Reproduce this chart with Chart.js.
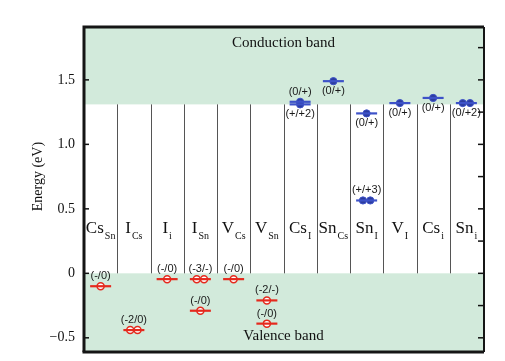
<!DOCTYPE html>
<html><head><meta charset="utf-8">
<script src="https://cdn.jsdelivr.net/npm/chart.js@4.4.1/dist/chart.umd.min.js"></script>
<style>html,body{margin:0;padding:0;background:#fff;}canvas{display:block;}</style>
</head><body>
<canvas id="c" width="505" height="361"></canvas>
<script>
// ---- data ----
const defectMain = ['Cs','I','I','I','V','V','Cs','Sn','Sn','V','Cs','Sn'];
const defectSub  = ['Sn','Cs','i','Sn','Cs','Sn','I','Cs','I','I','i','i'];
const bandGap = 1.31;
const yTickValues = [-0.5, 0, 0.5, 1.0, 1.5];
const levelColumn = [0, 1, 2, 3, 3, 4, 5, 5, 6, 6, 7, 8, 8, 9, 10, 11];
const levelEnergy = [-0.10, -0.44, -0.045, -0.045, -0.29, -0.045, -0.21, -0.39, 1.33, 1.31, 1.49, 1.24, 0.565, 1.32, 1.36, 1.32];
const levelLabel  = ['(-/0)','(-2/0)','(-/0)','(-3/-)','(-/0)','(-/0)','(-2/-)','(-/0)','(0/+)','(+/+2)','(0/+)','(0/+)','(+/+3)','(0/+)','(0/+)','(0/+2)'];
const levelType   = ['a','a','a','a','a','a','a','a','d','d','d','d','d','d','d','d'];
const levelDouble = [0, 1, 0, 1, 0, 0, 0, 0, 0, 0, 0, 0, 1, 0, 0, 1];
const labelSide   = ['up','up','up','up','up','up','up','up','up','down','down','down','up','down','down','down'];

const RED = '#e5291d', BLUE_L = '#3d52c8', BLUE_D = '#2c3c9e', GREEN = '#d2eadb';
const SERIF = '"Liberation Serif", "Times New Roman", serif';
const SANS = '"Liberation Sans", Arial, sans-serif';

function segData(t){ return levelEnergy.map((e,i)=>({x:levelColumn[i]+0.5,y:e,t:levelType[i]})).filter(p=>p.t===t); }
function circData(t){
  const out=[];
  levelEnergy.forEach((e,i)=>{
    if(levelType[i]!==t) return;
    if(levelDouble[i]){ out.push({x:levelColumn[i]+0.5-0.11,y:e}); out.push({x:levelColumn[i]+0.5+0.11,y:e}); }
    else out.push({x:levelColumn[i]+0.5,y:e});
  });
  return out;
}

const decor = {
  id:'decor',
  beforeDatasetsDraw(chart){
    const {ctx, chartArea:a, scales:{x,y}} = chart;
    ctx.save();
    ctx.fillStyle = GREEN;
    const yg = y.getPixelForValue(bandGap), y0 = y.getPixelForValue(0);
    ctx.fillRect(a.left, a.top, a.right-a.left, yg-a.top);
    ctx.fillRect(a.left, y0, a.right-a.left, a.bottom-y0);
    // dividers
    ctx.strokeStyle = '#555'; ctx.lineWidth = 1;
    for(let k=1;k<defectMain.length;k++){
      const px = Math.round(x.getPixelForValue(k))+0.5;
      ctx.beginPath(); ctx.moveTo(px, yg); ctx.lineTo(px, y0); ctx.stroke();
    }
    // band texts
    ctx.fillStyle = '#111'; ctx.textAlign='center'; ctx.textBaseline='middle';
    ctx.font = '15px '+SERIF;
    const cx = (a.left+a.right)/2;
    ctx.fillText('Conduction band', cx, a.top+16);
    ctx.fillText('Valence band', cx, a.bottom-16);
    // column labels
    const ly = y.getPixelForValue(0.31);
    defectMain.forEach((m,i)=>{
      ctx.font = '17px '+SERIF;
      const mw = ctx.measureText(m).width;
      ctx.font = '10px '+SERIF;
      const sw = ctx.measureText(defectSub[i]).width;
      const total = mw+sw+1;
      const c = x.getPixelForValue(i+0.5);
      const sx = c-total/2;
      ctx.textAlign='left'; ctx.textBaseline='alphabetic';
      ctx.font = '17px '+SERIF; ctx.fillText(m, sx, ly);
      ctx.font = '10px '+SERIF; ctx.fillText(defectSub[i], sx+mw+1, ly+6);
    });
    ctx.restore();
  },
  afterDatasetsDraw(chart){
    const {ctx, chartArea:a, scales:{x,y}} = chart;
    ctx.save();
    // level labels
    ctx.font = '11px '+SANS; ctx.fillStyle='#1a1a1a'; ctx.textAlign='center'; ctx.textBaseline='middle';
    levelLabel.forEach((l,i)=>{
      const px = x.getPixelForValue(levelColumn[i]+0.5);
      const py = y.getPixelForValue(levelEnergy[i]) + (labelSide[i]==='up' ? -10 : 10);
      ctx.fillText(l, px, py);
    });
    // inner ticks
    ctx.strokeStyle='#111'; ctx.lineWidth=1.5;
    yTickValues.forEach(v=>{
      const py = y.getPixelForValue(v);
      ctx.beginPath(); ctx.moveTo(a.left, py); ctx.lineTo(a.left+5, py); ctx.stroke();
    });
    for(let v=-0.5; v<=1.76; v+=0.25){
      const py = y.getPixelForValue(v);
      ctx.beginPath(); ctx.moveTo(a.right, py); ctx.lineTo(a.right-5, py); ctx.stroke();
    }
    // frame
    ctx.strokeStyle='#151515'; ctx.lineWidth=3;
    ctx.beginPath(); ctx.moveTo(a.left, a.bottom); ctx.lineTo(a.left, a.top); ctx.lineTo(a.right+1, a.top); ctx.stroke();
    ctx.beginPath(); ctx.moveTo(a.left-1.5, a.bottom); ctx.lineTo(a.right+1, a.bottom); ctx.stroke();
    ctx.lineWidth=2;
    ctx.beginPath(); ctx.moveTo(a.right+1, a.top); ctx.lineTo(a.right+1, a.bottom); ctx.stroke();
    // axis title
    ctx.fillStyle='#111'; ctx.font='14px '+SERIF; ctx.textAlign='center'; ctx.textBaseline='middle';
    ctx.translate(38, y.getPixelForValue(0.75)); ctx.rotate(-Math.PI/2);
    ctx.fillText('Energy (eV)', 0, 0);
    ctx.restore();
  }
};

new Chart(document.getElementById('c'), {
  type:'scatter',
  data:{datasets:[
    {data:segData('a'), pointStyle:'line', pointRadius:10.5, borderColor:RED, pointBorderWidth:2.2, backgroundColor:RED},
    {data:circData('a'), pointStyle:'circle', pointRadius:3.5, borderColor:RED, pointBorderWidth:1.5, backgroundColor:'#fff'},
    {data:segData('d'), pointStyle:'line', pointRadius:10.5, borderColor:BLUE_L, pointBorderWidth:2.2, backgroundColor:BLUE_L},
    {data:circData('d'), pointStyle:'circle', pointRadius:3.6, borderColor:BLUE_L, pointBorderWidth:1, backgroundColor:BLUE_D}
  ]},
  options:{
    responsive:false, animation:false, events:[],
    layout:{autoPadding:false, padding:{left:0,right:22,top:27,bottom:9}},
    plugins:{legend:{display:false}, tooltip:{enabled:false}},
    scales:{
      x:{type:'linear', min:0, max:12, display:false},
      y:{type:'linear', min:-0.61, max:1.91,
        afterFit(s){ s.width = 84; s.paddingTop = 0; s.paddingBottom = 0; },
        afterBuildTicks(s){ s.ticks = yTickValues.map(v=>({value:v})); },
        grid:{display:false, drawTicks:false}, border:{display:false},
        ticks:{padding:9, color:'#111', font:{family:SERIF, size:14},
          callback:(v)=> v===0 ? '0' : (v<0 ? '\u2212'+Math.abs(v).toFixed(1) : v.toFixed(1))}
      }
    }
  },
  plugins:[decor]
});
</script>
</body></html>
